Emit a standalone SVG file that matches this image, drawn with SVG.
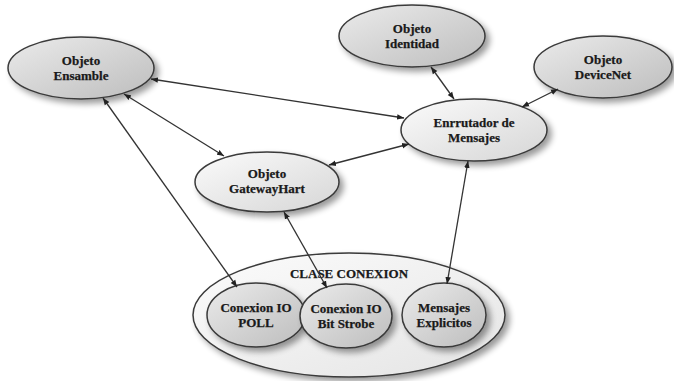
<svg xmlns="http://www.w3.org/2000/svg" width="674" height="381" viewBox="0 0 674 381">
<style>
.n{stroke:#3a3a3a;stroke-width:1.5}
.t{font-family:"Liberation Serif","Times New Roman",serif;font-weight:bold;font-size:13px;fill:#1a1a1a;stroke:#1a1a1a;stroke-width:0.25;text-anchor:middle}
.c{fill:none;stroke:#333;stroke-width:1.3;marker-start:url(#a);marker-end:url(#a)}
</style>
<defs>
<linearGradient id="g1" x1="0" y1="0" x2="1" y2="1">
<stop offset="0" stop-color="#ebebeb"/><stop offset="1" stop-color="#bdbdbd"/>
</linearGradient>
<linearGradient id="g2" x1="0" y1="0" x2="1" y2="1">
<stop offset="0" stop-color="#fbfbfb"/><stop offset="1" stop-color="#d6d6d6"/>
</linearGradient>
<linearGradient id="g3" x1="0" y1="0" x2="1" y2="1">
<stop offset="0" stop-color="#fcfcfc"/><stop offset="1" stop-color="#e4e4e4"/>
</linearGradient>
<filter id="sh" x="-20%" y="-20%" width="150%" height="160%">
<feGaussianBlur in="SourceAlpha" stdDeviation="3"/>
<feOffset dx="4" dy="4" result="b"/>
<feComponentTransfer><feFuncA type="linear" slope="0.4"/></feComponentTransfer>
<feMerge><feMergeNode/><feMergeNode in="SourceGraphic"/></feMerge>
</filter>
<marker id="a" viewBox="0 0 10 10" refX="10" refY="5" markerWidth="7" markerHeight="7" orient="auto-start-reverse" markerUnits="userSpaceOnUse">
<path d="M0,1 L10,5 L0,9 z" fill="#222"/>
</marker>
</defs>
<rect width="674" height="381" fill="#fff"/>

<g id="clase">
<ellipse class="n" cx="349" cy="315" rx="156" ry="62" fill="url(#g3)" filter="url(#sh)"/>
<text class="t" x="349" y="278">CLASE CONEXION</text>
</g>
<g id="ensamble">
<ellipse class="n" cx="81" cy="68" rx="73" ry="31" fill="url(#g1)" filter="url(#sh)"/>
<text class="t" x="81" y="65">Objeto</text>
<text class="t" x="81" y="80">Ensamble</text>
</g>
<g id="identidad">
<ellipse class="n" cx="412" cy="36" rx="73" ry="31" fill="url(#g1)" filter="url(#sh)"/>
<text class="t" x="412" y="33">Objeto</text>
<text class="t" x="412" y="48">Identidad</text>
</g>
<g id="devicenet">
<ellipse class="n" cx="603" cy="67" rx="69" ry="31" fill="url(#g1)" filter="url(#sh)"/>
<text class="t" x="603" y="64">Objeto</text>
<text class="t" x="603" y="79">DeviceNet</text>
</g>
<g id="enrrutador">
<ellipse class="n" cx="474" cy="130" rx="73" ry="31" fill="url(#g2)" filter="url(#sh)"/>
<text class="t" x="474" y="127">Enrrutador de</text>
<text class="t" x="474" y="142">Mensajes</text>
</g>
<g id="gateway">
<ellipse class="n" cx="267" cy="182" rx="72" ry="30" fill="url(#g2)" filter="url(#sh)"/>
<text class="t" x="267" y="178">Objeto</text>
<text class="t" x="267" y="193">GatewayHart</text>
</g>
<g id="poll">
<ellipse class="n" cx="256" cy="315" rx="49" ry="32" fill="url(#g1)" filter="url(#sh)"/>
<text class="t" x="256" y="312">Conexion IO</text>
<text class="t" x="256" y="327">POLL</text>
</g>
<g id="bitstrobe">
<ellipse class="n" cx="346" cy="316" rx="46" ry="32" fill="url(#g1)" filter="url(#sh)"/>
<text class="t" x="346" y="313">Conexion IO</text>
<text class="t" x="346" y="328">Bit Strobe</text>
</g>
<g id="mensajes">
<ellipse class="n" cx="444" cy="315" rx="42" ry="32" fill="url(#g1)" filter="url(#sh)"/>
<text class="t" x="444" y="312">Mensajes</text>
<text class="t" x="444" y="327">Explicitos</text>
</g>

<g id="connectors">
<line class="c" x1="151" y1="79" x2="404" y2="118"/>
<line class="c" x1="124" y1="94" x2="224" y2="156"/>
<line class="c" x1="103" y1="98" x2="237" y2="287"/>
<line class="c" x1="329" y1="165" x2="409" y2="144"/>
<line class="c" x1="284" y1="212" x2="327" y2="288"/>
<line class="c" x1="431" y1="67" x2="454" y2="99"/>
<line class="c" x1="558" y1="89" x2="522" y2="107"/>
<line class="c" x1="468" y1="161" x2="447" y2="284"/>
</g>
</svg>
